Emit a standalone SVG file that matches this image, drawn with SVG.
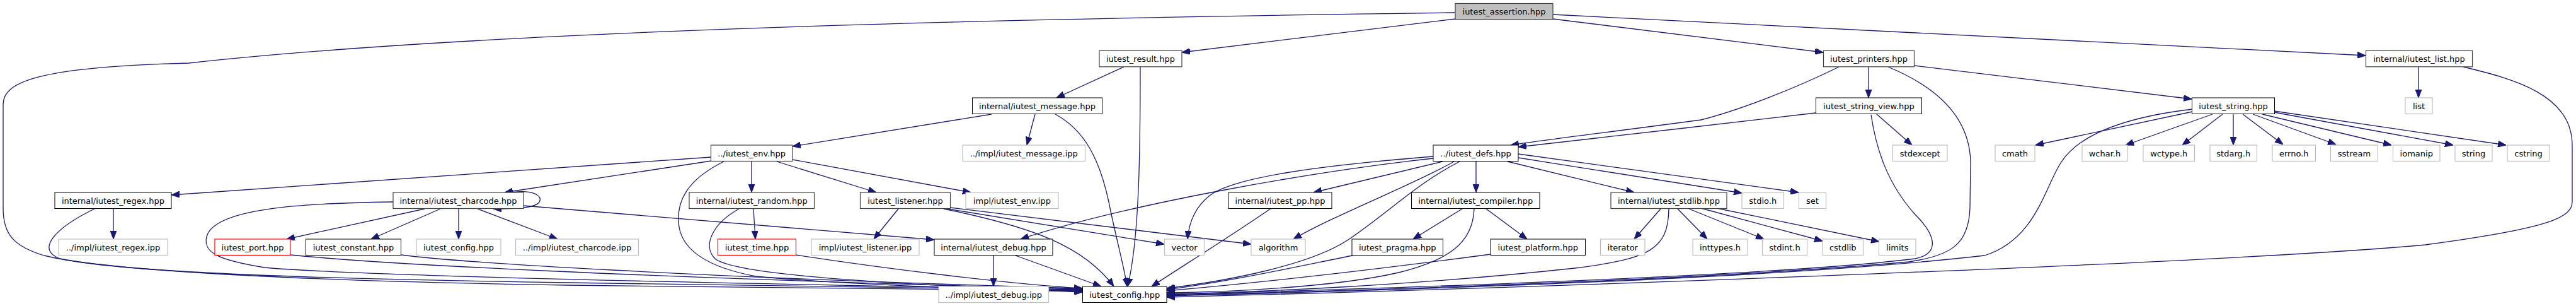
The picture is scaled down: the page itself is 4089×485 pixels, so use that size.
<svg xmlns="http://www.w3.org/2000/svg" width="4089" height="485" viewBox="0 0 4089 485">
<style>
rect.n{fill:#fff;stroke:#000;stroke-width:1}
rect.d{fill:#fff;stroke:#404040;stroke-width:1.2}
rect.g{fill:#fff;stroke:#bfbfbf;stroke-width:1.2}
rect.r{fill:#fff;stroke:#ff0000;stroke-width:1.2}
rect.root{fill:#bfbfbf;stroke:#404040;stroke-width:1.2}
text{font-family:"DejaVu Sans","Liberation Sans",sans-serif;font-size:13px;fill:#000;text-anchor:middle}
#edges path{fill:none;stroke:#191970;stroke-width:1.3;marker-end:url(#a)}
</style>
<defs>
<marker id="a" markerUnits="userSpaceOnUse" markerWidth="13" markerHeight="10" viewBox="0 0 13 10" refX="13" refY="5" orient="auto">
<path d="M0,0 L13,5 L0,10 z" fill="#191970" stroke="#191970" stroke-width="1"/>
</marker>
</defs>
<rect x="0" y="0" width="4089" height="485" fill="#fff"/>
<g id="edges">
<path d="M2310,20 C1700,28 800,45 300,100 C60,106 5,130 5,165 L5,330 C5,370 20,390 70,405 C150,425 400,444 900,452 C1300,457 1550,459 1718,461"/>
<path d="M2310,30 L1876,83"/>
<path d="M2465,30 L2894,83"/>
<path d="M2465,23 L3755,88"/>
<path d="M1784,106 L1677,155"/>
<path d="M1810,106 C1810,250 1808,380 1790,454"/>
<path d="M1574,181 L1258,232"/>
<path d="M1643,181 L1630,230"/>
<path d="M1675,181 C1720,205 1745,250 1760,320 C1772,380 1785,425 1789,454"/>
<path d="M1129,249 L272,309"/>
<path d="M1129,255 L801,305"/>
<path d="M1193,256 L1193,305"/>
<path d="M1233,256 L1391,305"/>
<path d="M1258,253 L1541,305"/>
<path d="M1149,256 C1090,285 1072,320 1078,360 C1085,400 1130,425 1200,438 C1350,452 1550,458 1718,462"/>
<path d="M180,331 L180,379"/>
<path d="M150,331 C90,360 55,395 95,410 C200,432 500,442 900,448 C1300,455 1550,458 1718,460"/>
<path d="M812,305 C845,300 860,310 857,318 C855,328 830,331 783,331"/>
<path d="M674,331 L455,379"/>
<path d="M699,331 L589,379"/>
<path d="M728,331 L728,379"/>
<path d="M758,331 L885,379"/>
<path d="M831,326 L1483,380"/>
<path d="M624,320 C480,322 340,330 328,375 C322,400 345,412 420,424 C550,436 1000,447 1718,459"/>
<path d="M461,404 C600,418 1000,440 1718,458"/>
<path d="M637,404 C720,415 1100,440 1718,457"/>
<path d="M1196,331 L1199,379"/>
<path d="M1173,331 C1130,355 1115,390 1135,410 C1160,430 1300,446 1718,463"/>
<path d="M1263,404 C1400,425 1600,450 1718,457"/>
<path d="M1426,331 L1387,379"/>
<path d="M1498,330 L1848,387"/>
<path d="M1508,329 L1986,387"/>
<path d="M1498,331 C1640,360 1720,390 1768,454"/>
<path d="M1577,405 L1577,454"/>
<path d="M1612,405 L1748,454"/>
<path d="M2275,251 C2100,270 1800,320 1620,379"/>
<path d="M2275,248 C2100,262 1960,280 1920,310 C1895,330 1887,355 1885,379"/>
<path d="M2290,256 L2085,305"/>
<path d="M2308,256 C2250,290 2120,340 2053,379"/>
<path d="M2317,256 C2250,290 2200,340 2140,380 C2080,420 1950,445 1852,457"/>
<path d="M2343,256 L2343,305"/>
<path d="M2393,256 L2594,305"/>
<path d="M2410,250 L2765,306"/>
<path d="M2410,244 L2855,305"/>
<path d="M2018,330 C1960,370 1880,420 1828,454"/>
<path d="M2321,331 L2243,379"/>
<path d="M2359,331 L2424,379"/>
<path d="M2340,331 C2338,385 2300,412 2220,432 C2120,455 1950,463 1852,464"/>
<path d="M2147,405 C2080,418 1960,445 1852,459"/>
<path d="M2366,403 C2200,425 2000,448 1852,461"/>
<path d="M2636,331 L2594,379"/>
<path d="M2663,331 L2710,379"/>
<path d="M2681,331 L2800,379"/>
<path d="M2700,330 L2893,382"/>
<path d="M2725,330 L2983,383"/>
<path d="M2649,331 C2648,395 2620,410 2500,425 C2250,452 2000,463 1852,466"/>
<path d="M2919,106 C2850,140 2760,175 2700,190 C2550,210 2450,222 2398,230"/>
<path d="M2966,106 L2966,155"/>
<path d="M3039,104 L3479,157"/>
<path d="M2997,106 C3080,140 3128,190 3128,260 L3127,330 C3125,385 3100,405 3030,415 C2700,445 2100,462 1852,468"/>
<path d="M2882,179 C2750,195 2500,222 2410,233"/>
<path d="M2979,181 L3035,230"/>
<path d="M2970,182 C2978,235 2995,290 3040,340 C3075,375 3078,402 3040,410 C2800,440 2100,460 1852,467"/>
<path d="M3480,173 C3380,185 3300,210 3270,260 C3245,300 3230,380 3150,405 C2800,445 2100,463 1852,469"/>
<path d="M3480,177 L3231,230"/>
<path d="M3512,181 L3374,230"/>
<path d="M3528,181 L3464,230"/>
<path d="M3545,181 L3545,230"/>
<path d="M3560,181 L3624,229"/>
<path d="M3576,181 L3708,229"/>
<path d="M3591,181 L3796,230"/>
<path d="M3610,178 L3894,230"/>
<path d="M3610,176 L3978,230"/>
<path d="M3839,106 L3839,155"/>
<path d="M3910,106 C3990,125 4083,150 4083,230 L4083,320 C4083,345 4045,362 3850,388 C3500,420 2300,460 1852,471"/>
</g>
<g id="n_assertion"><rect class="root" x="2310" y="5.5" width="155" height="25.5"/><text x="2387.5" y="23">iutest_assertion.hpp</text></g>
<g id="n_result"><rect class="d" x="1745" y="80.3" width="131" height="25.5"/><text x="1810.5" y="97.8">iutest_result.hpp</text></g>
<g id="n_printers"><rect class="d" x="2894.5" y="80.3" width="144" height="25.5"/><text x="2966.5" y="97.8">iutest_printers.hpp</text></g>
<g id="n_list_int"><rect class="d" x="3755.5" y="80.3" width="169" height="25.5"/><text x="3840" y="97.8">internal/iutest_list.hpp</text></g>
<g id="n_message"><rect class="n" x="1543.5" y="155" width="206" height="25.5"/><text x="1646.5" y="172.5">internal/iutest_message.hpp</text></g>
<g id="n_string_view"><rect class="n" x="2882.5" y="155" width="168" height="25.5"/><text x="2966.5" y="172.5">iutest_string_view.hpp</text></g>
<g id="n_string"><rect class="n" x="3479.5" y="155" width="131" height="25.5"/><text x="3545" y="172.5">iutest_string.hpp</text></g>
<g id="n_list"><rect class="g" x="3818" y="155" width="43" height="25.5"/><text x="3839.5" y="172.5">list</text></g>
<g id="n_env"><rect class="d" x="1128.5" y="230" width="129.5" height="25.5"/><text x="1193.25" y="247.5">../iutest_env.hpp</text></g>
<g id="n_message_ipp"><rect class="g" x="1528" y="230" width="194.5" height="25.5"/><text x="1625.25" y="247.5">../impl/iutest_message.ipp</text></g>
<g id="n_defs"><rect class="n" x="2275" y="230" width="135" height="25.5"/><text x="2342.5" y="247.5">../iutest_defs.hpp</text></g>
<g id="n_stdexcept"><rect class="g" x="3004.5" y="230" width="86.5" height="25.5"/><text x="3047.75" y="247.5">stdexcept</text></g>
<g id="n_cmath"><rect class="g" x="3167" y="230" width="63" height="25.5"/><text x="3198.5" y="247.5">cmath</text></g>
<g id="n_wchar"><rect class="g" x="3305" y="230" width="72" height="25.5"/><text x="3341" y="247.5">wchar.h</text></g>
<g id="n_wctype"><rect class="g" x="3402" y="230" width="81.5" height="25.5"/><text x="3442.75" y="247.5">wctype.h</text></g>
<g id="n_stdarg"><rect class="g" x="3508" y="230" width="74.5" height="25.5"/><text x="3545.25" y="247.5">stdarg.h</text></g>
<g id="n_errno"><rect class="g" x="3607" y="230" width="68.5" height="25.5"/><text x="3641.25" y="247.5">errno.h</text></g>
<g id="n_sstream"><rect class="g" x="3699.5" y="230" width="75" height="25.5"/><text x="3737" y="247.5">sstream</text></g>
<g id="n_iomanip"><rect class="g" x="3798.5" y="230" width="74.5" height="25.5"/><text x="3835.75" y="247.5">iomanip</text></g>
<g id="n_stdstring"><rect class="g" x="3897" y="230" width="59" height="25.5"/><text x="3926.5" y="247.5">string</text></g>
<g id="n_cstring"><rect class="g" x="3980" y="230" width="67" height="25.5"/><text x="4013.5" y="247.5">cstring</text></g>
<g id="n_regex"><rect class="n" x="87" y="305" width="185" height="25.5"/><text x="179.5" y="322.5">internal/iutest_regex.hpp</text></g>
<g id="n_charcode"><rect class="d" x="624" y="305" width="207" height="25.5"/><text x="727.5" y="322.5">internal/iutest_charcode.hpp</text></g>
<g id="n_random"><rect class="d" x="1094" y="305" width="198.5" height="25.5"/><text x="1193.25" y="322.5">internal/iutest_random.hpp</text></g>
<g id="n_listener"><rect class="d" x="1365.5" y="305" width="143" height="25.5"/><text x="1437" y="322.5">iutest_listener.hpp</text></g>
<g id="n_env_ipp"><rect class="g" x="1533" y="305" width="147" height="25.5"/><text x="1606.5" y="322.5">impl/iutest_env.ipp</text></g>
<g id="n_pp"><rect class="n" x="1950" y="305" width="164" height="25.5"/><text x="2032" y="322.5">internal/iutest_pp.hpp</text></g>
<g id="n_compiler"><rect class="n" x="2240.5" y="305" width="203.5" height="25.5"/><text x="2342.25" y="322.5">internal/iutest_compiler.hpp</text></g>
<g id="n_stdlib"><rect class="d" x="2557" y="305" width="184" height="25.5"/><text x="2649" y="322.5">internal/iutest_stdlib.hpp</text></g>
<g id="n_stdio"><rect class="g" x="2765" y="305" width="66.5" height="25.5"/><text x="2798.25" y="322.5">stdio.h</text></g>
<g id="n_set"><rect class="g" x="2855.5" y="305" width="43" height="25.5"/><text x="2877" y="322.5">set</text></g>
<g id="n_regex_ipp"><rect class="g" x="93" y="379" width="173" height="25.5"/><text x="179.5" y="396.5">../impl/iutest_regex.ipp</text></g>
<g id="n_port"><rect class="r" x="341" y="379" width="120" height="25.5"/><text x="401" y="396.5">iutest_port.hpp</text></g>
<g id="n_constant"><rect class="n" x="485.5" y="379" width="151" height="25.5"/><text x="561" y="396.5">iutest_constant.hpp</text></g>
<g id="n_config_gray"><rect class="g" x="661" y="379" width="134" height="25.5"/><text x="728" y="396.5">iutest_config.hpp</text></g>
<g id="n_charcode_ipp"><rect class="g" x="818.5" y="379" width="195" height="25.5"/><text x="916" y="396.5">../impl/iutest_charcode.ipp</text></g>
<g id="n_time"><rect class="r" x="1139.5" y="379" width="124" height="25.5"/><text x="1201.5" y="396.5">iutest_time.hpp</text></g>
<g id="n_listener_ipp"><rect class="g" x="1288" y="379" width="171" height="25.5"/><text x="1373.5" y="396.5">impl/iutest_listener.ipp</text></g>
<g id="n_debug"><rect class="n" x="1483" y="379" width="188" height="25.5"/><text x="1577" y="396.5">internal/iutest_debug.hpp</text></g>
<g id="n_vector"><rect class="g" x="1848.5" y="379" width="63" height="25.5"/><text x="1880" y="396.5">vector</text></g>
<g id="n_algorithm"><rect class="g" x="1986" y="379" width="86" height="25.5"/><text x="2029" y="396.5">algorithm</text></g>
<g id="n_pragma"><rect class="n" x="2146" y="379" width="144.5" height="25.5"/><text x="2218.25" y="396.5">iutest_pragma.hpp</text></g>
<g id="n_platform"><rect class="n" x="2366" y="379" width="150.5" height="25.5"/><text x="2441.25" y="396.5">iutest_platform.hpp</text></g>
<g id="n_iterator"><rect class="g" x="2540.5" y="379" width="70.5" height="25.5"/><text x="2575.75" y="396.5">iterator</text></g>
<g id="n_inttypes"><rect class="g" x="2687" y="379" width="87" height="25.5"/><text x="2730.5" y="396.5">inttypes.h</text></g>
<g id="n_stdint"><rect class="g" x="2797.5" y="379" width="71" height="25.5"/><text x="2833" y="396.5">stdint.h</text></g>
<g id="n_cstdlib"><rect class="g" x="2893" y="379" width="64.5" height="25.5"/><text x="2925.25" y="396.5">cstdlib</text></g>
<g id="n_limits"><rect class="g" x="2982.5" y="379" width="58.5" height="25.5"/><text x="3011.75" y="396.5">limits</text></g>
<g id="n_debug_ipp"><rect class="g" x="1490" y="454" width="174.5" height="25.5"/><text x="1577.25" y="471.5">../impl/iutest_debug.ipp</text></g>
<g id="n_config"><rect class="n" x="1718.5" y="454" width="133.5" height="25.5"/><text x="1785.25" y="471.5">iutest_config.hpp</text></g>
</svg>
